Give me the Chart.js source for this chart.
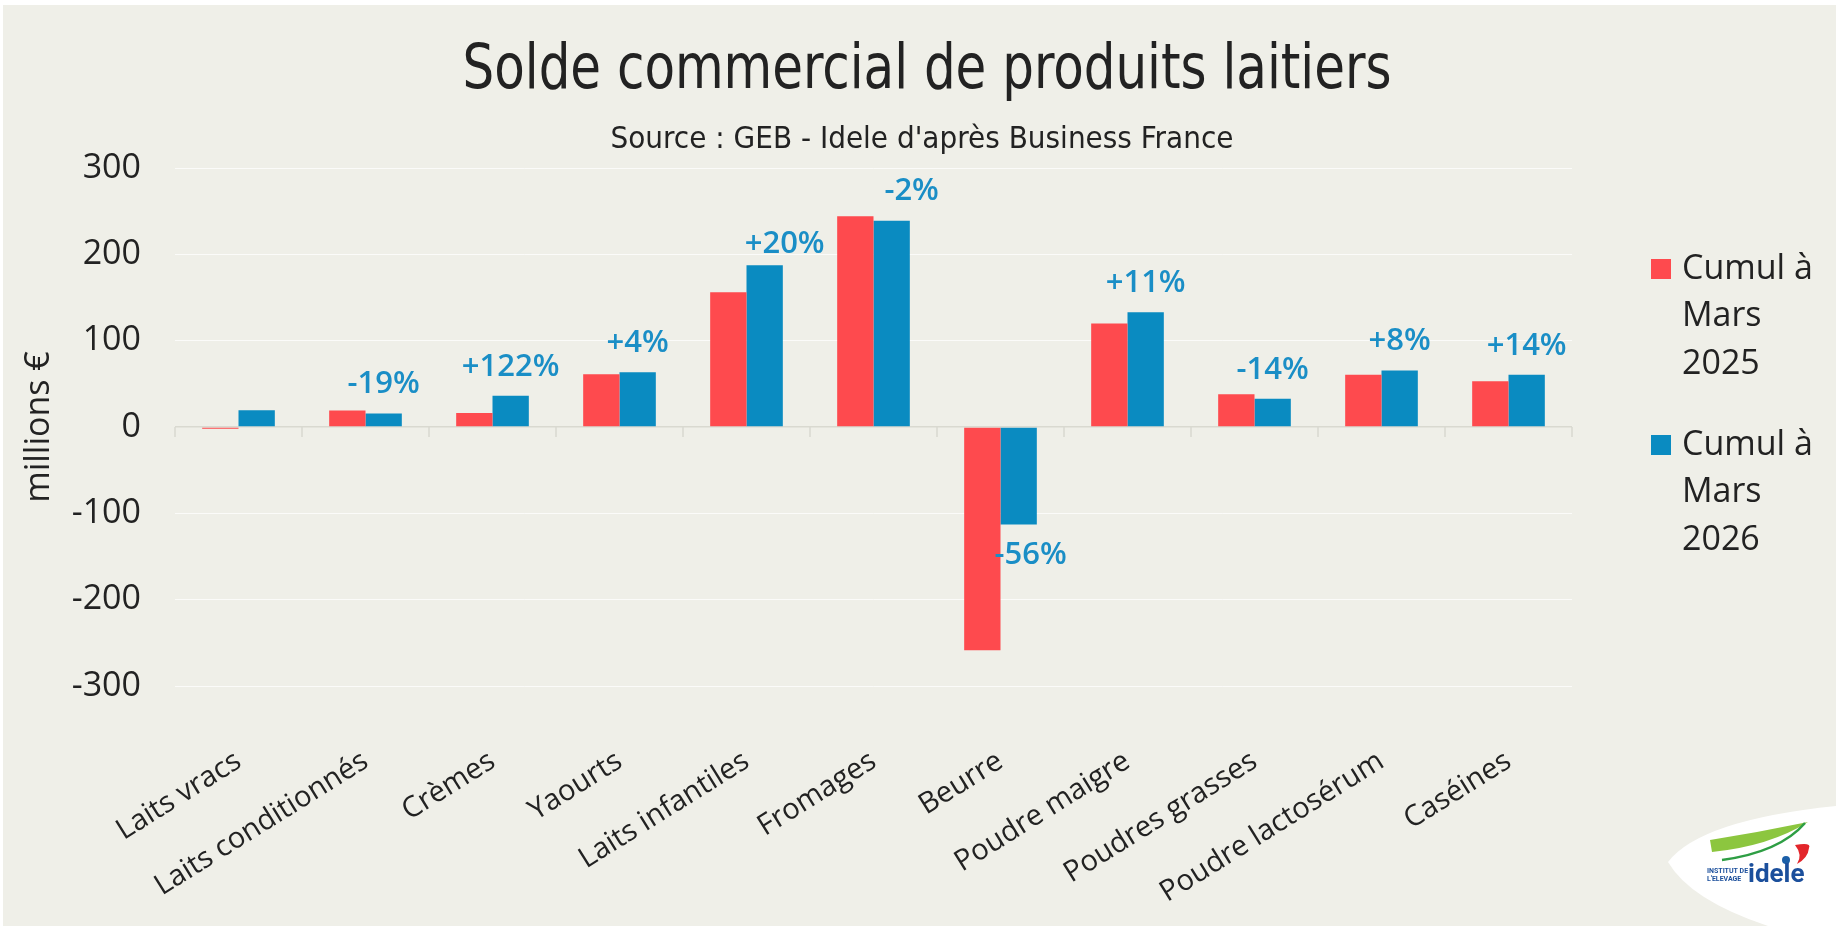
<!DOCTYPE html>
<html><head><meta charset="utf-8">
<script src="https://cdn.jsdelivr.net/npm/chart.js@4.4.1/dist/chart.umd.min.js"></script>
<style>html,body{margin:0;padding:0;background:#fff;overflow:hidden}#wrap{position:relative;width:1836px;height:926px}canvas{display:block}</style>
</head><body><div id="wrap"><canvas id="c" width="1836" height="926"></canvas></div>
<script>
// ---- data ----
const categories = ['Laits vracs', 'Laits conditionnés', 'Crèmes', 'Yaourts', 'Laits infantiles', 'Fromages', 'Beurre', 'Poudre maigre', 'Poudres grasses', 'Poudre lactosérum', 'Caséines'];
const values2025 = [-2, 19, 16.3, 61, 156, 244, -258.5, 120, 38, 60.5, 53];
const values2026 = [19.5, 15.5, 36.2, 63.5, 187.5, 239, -113, 133, 32.7, 65.3, 60.4];
const changeLabels = ['', '-19%', '+122%', '+4%', '+20%', '-2%', '-56%', '+11%', '-14%', '+8%', '+14%'];
const seriesNames = ['Cumul à Mars 2025', 'Cumul à Mars 2026'];
const legendLines = [['Cumul à', 'Mars', '2025'], ['Cumul à', 'Mars', '2026']];
const yMin = -300, yMax = 300, yStep = 100;
const titleText = 'Solde commercial de produits laitiers';
const subtitleText = "Source : GEB - Idele d'après Business France";
const yTitle = 'millions €';

// ---- styles / layout ----
const RED = '#fe4a4e', BLUE = '#0a8bc1', LABEL_BLUE = '#1a8ec6', BG = '#efefe8', INK = '#222222';
const labelDx = [0, 0, 0, 0, 20, 20, 12, 0, 0, 0, 0];
const labelDy = [0, 0, 0, 0, 8, 0, 0, 0, 0, 0, 0];
const SANS = '"Open Sans", Lato, sans-serif';
const NARROW = '"Liberation Sans Narrow", "DejaVu Sans Condensed", "Roboto Condensed", Roboto, sans-serif';

const bgPlugin = {
  id: 'bg',
  beforeDraw(chart) {
    const ctx = chart.ctx;
    ctx.save();
    ctx.fillStyle = '#ffffff';
    ctx.fillRect(0, 0, chart.width, chart.height);
    ctx.fillStyle = BG;
    ctx.fillRect(3, 5, chart.width - 3, chart.height - 5);
    ctx.restore();
  }
};

function drawFittedText(ctx, text, font, cx, cy, targetW) {
  ctx.save();
  ctx.font = font;
  const w = ctx.measureText(text).width;
  const sx = targetW / w;
  ctx.translate(cx, cy);
  ctx.scale(sx, 1);
  ctx.textAlign = 'center';
  ctx.textBaseline = 'middle';
  ctx.fillText(text, 0, 0);
  ctx.restore();
}

const titlePlugin = {
  id: 'titles',
  afterDraw(chart) {
    const ctx = chart.ctx;
    ctx.fillStyle = INK;
    drawFittedText(ctx, titleText, '62px ' + NARROW, 927, 72, 929);
    ctx.fillStyle = INK;
    drawFittedText(ctx, subtitleText, '31px ' + NARROW, 922, 140, 623);
  }
};

const zeroTicks = {
  id: 'zeroTicks',
  beforeDatasetsDraw(chart) {
    const ctx = chart.ctx, x = chart.scales.x, y = chart.scales.y;
    const y0 = y.getPixelForValue(0);
    const n = categories.length;
    ctx.save();
    ctx.strokeStyle = '#d9d9d0';
    ctx.lineWidth = 1.5;
    for (let i = 0; i <= n; i++) {
      let bx;
      if (i === 0) bx = x.left; else if (i === n) bx = x.right;
      else bx = (x.getPixelForValue(i - 1) + x.getPixelForValue(i)) / 2;
      ctx.beginPath(); ctx.moveTo(bx, y0); ctx.lineTo(bx, y0 + 10); ctx.stroke();
    }
    ctx.restore();
  }
};

const changeLabelsPlugin = {
  id: 'changeLabels',
  afterDatasetsDraw(chart) {
    const ctx = chart.ctx;
    const meta = chart.getDatasetMeta(1);
    ctx.save();
    ctx.fillStyle = LABEL_BLUE;
    ctx.font = '600 31px "Open Sans", Lato, sans-serif';
    ctx.textAlign = 'center';
    ctx.textBaseline = 'middle';
    meta.data.forEach((bar, i) => {
      const t = changeLabels[i];
      if (!t) return;
      const v = values2026[i];
      const px = bar.x + labelDx[i];
      const py = v >= 0 ? bar.y - 29 + labelDy[i] : bar.y + 31;
      ctx.fillText(t, px, py);
    });
    ctx.restore();
  }
};

const legendPlugin = {
  id: 'sideLegend',
  afterDraw(chart) {
    const ctx = chart.ctx;
    ctx.save();
    ctx.font = '34px ' + SANS;
    ctx.textBaseline = 'middle';
    ctx.textAlign = 'left';
    const startY = [269, 445];
    chart.data.datasets.forEach((ds, k) => {
      ctx.fillStyle = ds.backgroundColor;
      ctx.fillRect(1651, startY[k] - 10, 20, 20);
      ctx.fillStyle = INK;
      legendLines[k].forEach((ln, j) => ctx.fillText(ln, 1682, startY[k] + j * 47.5));
    });
    ctx.restore();
  }
};

const logoPlugin = {
  id: 'logo',
  afterDraw(chart) {
    const ctx = chart.ctx;
    ctx.save();
    ctx.fillStyle = '#ffffff';
    ctx.beginPath();
    ctx.moveTo(1668, 862);
    ctx.quadraticCurveTo(1700, 820, 1836, 806);
    ctx.lineTo(1836, 926);
    ctx.lineTo(1768, 926);
    ctx.quadraticCurveTo(1690, 900, 1668, 862);
    ctx.closePath();
    ctx.fill();
    ctx.fillStyle = '#8cc63f';
    ctx.beginPath();
    ctx.moveTo(1710, 840);
    ctx.quadraticCurveTo(1760, 832, 1808, 822);
    ctx.quadraticCurveTo(1770, 846, 1712, 852);
    ctx.closePath(); ctx.fill();
    ctx.strokeStyle = '#2e9e44'; ctx.lineWidth = 2.5;
    ctx.beginPath(); ctx.moveTo(1722, 860); ctx.quadraticCurveTo(1780, 852, 1805, 823); ctx.stroke();
    ctx.fillStyle = '#e3262b';
    ctx.beginPath(); ctx.moveTo(1795, 845); ctx.quadraticCurveTo(1812, 842, 1809, 848); ctx.quadraticCurveTo(1808, 858, 1797, 864); ctx.quadraticCurveTo(1803, 855, 1795, 845); ctx.fill();
    ctx.fillStyle = '#1b5fa8';
    ctx.beginPath(); ctx.arc(1786, 860, 4, 0, Math.PI * 2); ctx.fill();
    ctx.fillStyle = '#1b4f9c';
    ctx.font = 'bold 7px Roboto, sans-serif';
    ctx.textBaseline = 'alphabetic';
    ctx.fillText('INSTITUT DE', 1707, 873);
    ctx.fillText("L'ELEVAGE", 1707, 881);
    ctx.font = 'bold 26px Roboto, sans-serif';
    ctx.fillText('idele', 1748, 882);
    ctx.restore();
  }
};

new Chart(document.getElementById('c'), {
  type: 'bar',
  data: {
    labels: categories,
    datasets: [
      { label: seriesNames[0], data: values2025, backgroundColor: RED },
      { label: seriesNames[1], data: values2026, backgroundColor: BLUE }
    ]
  },
  options: {
    responsive: false,
    devicePixelRatio: 1,
    animation: false,
    layout: { padding: { left: 0, right: 264, top: 168, bottom: 0 } },
    datasets: { bar: { categoryPercentage: 0.572, barPercentage: 1.0 } },
    plugins: {
      legend: { display: false },
      tooltip: { enabled: false },
      title: { display: false },
      subtitle: { display: false }
    },
    scales: {
      x: {
        grid: { display: false, drawTicks: false },
        border: { display: false },
        ticks: { autoSkip: false, minRotation: 32, maxRotation: 32, padding: 58, color: INK, font: { family: SANS, size: 29 } },
        afterFit(s) { s.height = 926 - 686; }
      },
      y: {
        min: yMin, max: yMax,
        border: { display: false },
        grid: {
          drawTicks: false,
          color: (c) => (c.tick && c.tick.value === 0) ? '#d9d9d0' : 'rgba(255,255,255,0.75)',
          lineWidth: (c) => (c.tick && c.tick.value === 0) ? 1.5 : 1
        },
        ticks: { stepSize: yStep, padding: 34, color: INK, font: { family: SANS, size: 34 } },
        title: { display: true, text: yTitle, color: INK, font: { family: SANS, size: 34 }, padding: { top: 19, bottom: 0 } },
        afterFit(s) { s.width = 175; }
      }
    }
  },
  plugins: [bgPlugin, zeroTicks, changeLabelsPlugin, legendPlugin, logoPlugin, titlePlugin]
});
</script>
</body></html>
